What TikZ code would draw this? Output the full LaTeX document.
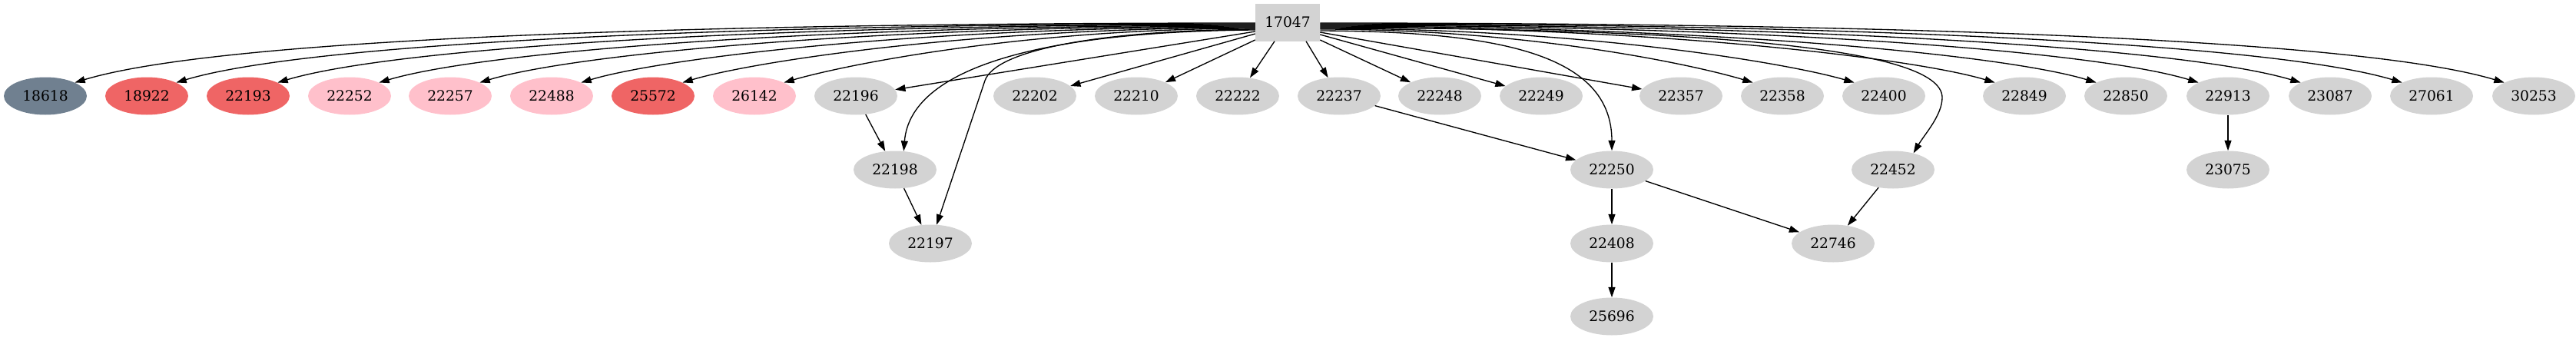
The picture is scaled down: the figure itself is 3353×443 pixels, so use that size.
\documentclass[tikz,border=0pt]{standalone}
\usepackage{fontspec}
\setmainfont{DejaVu Serif}
\usetikzlibrary{arrows.meta,shapes.geometric,calc}
\definecolor{ngray}{HTML}{D3D3D3}
\definecolor{nslate}{HTML}{708090}
\definecolor{nred}{HTML}{EF6565}
\definecolor{npink}{HTML}{FFC0CB}
\begin{document}
\begin{tikzpicture}[x=0.75pt,y=-0.75pt,
  font=\fontsize{14}{16}\selectfont,
  nd/.style={ellipse, minimum width=81pt, minimum height=36.75pt, inner sep=0pt, fill=ngray},
  rootbox/.style={rectangle, minimum width=63pt, minimum height=36.75pt, inner sep=0pt, fill=ngray},
  edge/.style={draw=black, line width=1pt, -{Triangle[length=10pt,width=6.7pt]}}]
\useasboundingbox (0,0) rectangle (3353,443);
% root
\node[rootbox] (root) at (1676,29) {17047};
% row 1
\node[nd,fill=nslate] (n18618) at (59,125) {18618};
\node[nd,fill=nred]   (n18922) at (191,125) {18922};
\node[nd,fill=nred]   (n22193) at (323,125) {22193};
\node[nd,fill=npink]  (n22252) at (455,125) {22252};
\node[nd,fill=npink]  (n22257) at (586,125) {22257};
\node[nd,fill=npink]  (n22488) at (718,125) {22488};
\node[nd,fill=nred]   (n25572) at (850,125) {25572};
\node[nd,fill=npink]  (n26142) at (982,125) {26142};
\node[nd] (n22196) at (1114,125) {22196};
\node[nd] (n22202) at (1347,125) {22202};
\node[nd] (n22210) at (1479,125) {22210};
\node[nd] (n22222) at (1611,125) {22222};
\node[nd] (n22237) at (1743,125) {22237};
\node[nd] (n22248) at (1874,125) {22248};
\node[nd] (n22249) at (2006,125) {22249};
\node[nd] (n22357) at (2188,125) {22357};
\node[nd] (n22358) at (2320,125) {22358};
\node[nd] (n22400) at (2452,125) {22400};
\node[nd] (n22849) at (2635,125) {22849};
\node[nd] (n22850) at (2767,125) {22850};
\node[nd] (n22913) at (2900,125) {22913};
\node[nd] (n23087) at (3033,125) {23087};
\node[nd] (n27061) at (3165,125) {27061};
\node[nd] (n30253) at (3298,125) {30253};
% row 2
\node[nd] (n22198) at (1165,221) {22198};
\node[nd] (n22250) at (2098,221) {22250};
\node[nd] (n22452) at (2464,221) {22452};
\node[nd] (n23075) at (2900,221) {23075};
% row 3
\node[nd] (n22197) at (1211,317) {22197};
\node[nd] (n22408) at (2098,317) {22408};
\node[nd] (n22746) at (2386,317) {22746};
% row 4
\node[nd] (n25696) at (2098,412) {25696};

% root -> far left
\draw[edge] ($(root.west)+(0,1)$) .. controls (865,30) and (281,52) .. (n18618.north east);
\draw[edge] ($(root.west)+(0,2)$) .. controls (931,31) and (398,57) .. (n18922.north east);
\draw[edge] ($(root.west)+(0,3)$) .. controls (997,32) and (514,62) .. (n22193.north east);
\draw[edge] ($(root.west)+(0,4)$) .. controls (1063,33) and (630,67) .. (n22252.north east);
\draw[edge] ($(root.west)+(0,5)$) .. controls (1129,34) and (745,71) .. (n22257.north east);
\draw[edge] ($(root.west)+(0,6)$) .. controls (1195,35) and (861,76) .. (n22488.north east);
\draw[edge] ($(root.west)+(0,7)$) .. controls (1261,36) and (977,81) .. (n25572.north east);
\draw[edge] ($(root.west)+(0,8)$) .. controls (1327,37) and (1094,86) .. (n26142.north east);
% root -> 22197, 22198
\coordinate (k22197) at (1282,105);
\draw[edge] ($(root.west)+(0,9)$) .. controls (1420,40) and (1295,67) .. (k22197) -- (n22197);
\draw[edge] ($(root.west)+(0,10)$) .. controls (1350,41) and (1185,90) .. (n22198.65);
% root -> near straight
\draw[edge] ($(root.west)+(0,12)$) -- (n22196);
\draw[edge] ($(root.west)+(0,15)$) -- (n22202);
\draw[edge] ($(root.west)+(0,23)$) -- (n22210);
\draw[edge] ($(root.south)+(-17,0)$) -- (n22222);
\draw[edge] ($(root.south)+(24,0)$) -- (n22237);
\draw[edge] ($(root.east)+(0,23)$) -- (n22248);
\draw[edge] ($(root.east)+(0,16)$) -- (n22249);
\draw[edge] ($(root.east)+(0,13)$) -- (n22357);
% root -> 22250, 22452
\draw[edge] ($(root.east)+(0,11)$) .. controls (1950,41) and (2098,70) .. (n22250.north);
\coordinate (k22452) at (2528,127);
\draw[edge] ($(root.east)+(0,7)$) .. controls (2200,37) and (2528,60) .. (k22452) .. controls (2528,150) and (2505,175) .. (n22452.39);
% root -> far right
\draw[edge] ($(root.east)+(0,9)$) .. controls (2000,38) and (2214,87) .. (n22358.north west);
\draw[edge] ($(root.east)+(0,8)$) .. controls (2066,37) and (2330,83) .. (n22400.north west);
\draw[edge] ($(root.east)+(0,6)$) .. controls (2157,35) and (2491,76) .. (n22849.north west);
\draw[edge] ($(root.east)+(0,5)$) .. controls (2223,34) and (2608,71) .. (n22850.north west);
\draw[edge] ($(root.east)+(0,4)$) .. controls (2290,33) and (2725,66) .. (n22913.north west);
\draw[edge] ($(root.east)+(0,3)$) .. controls (2356,32) and (2842,62) .. (n23087.north west);
\draw[edge] ($(root.east)+(0,2)$) .. controls (2422,31) and (2958,57) .. (n27061.north west);
\draw[edge] ($(root.east)+(0,1)$) .. controls (2489,30) and (3075,52) .. (n30253.north west);
% other edges
\draw[edge] (n22196) -- (n22198);
\draw[edge] (n22198) -- (n22197);
\draw[edge] (n22237) -- (n22250);
\draw[edge] (n22250) -- (n22408);
\draw[edge] (n22408) -- (n25696);
\draw[edge] (n22250) -- (n22746);
\draw[edge] (n22452) -- (n22746);
\draw[edge] (n22913) -- (n23075);
\end{tikzpicture}
\end{document}
